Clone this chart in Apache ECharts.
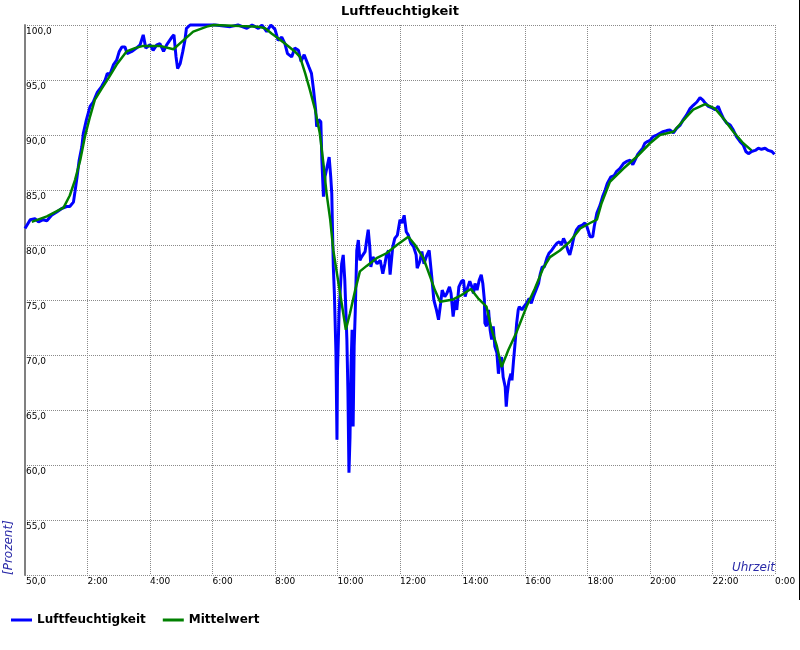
<!DOCTYPE html>
<html>
<head>
<meta charset="utf-8">
<script src="https://cdn.jsdelivr.net/npm/echarts@6/dist/echarts.min.js"></script>
<style>
html,body{margin:0;padding:0;background:#fff;}
#chart{width:800px;height:650px;}
</style>
</head>
<body>
<div id="chart"></div>
<script>
// Time in minutes after midnight
const luftMin = [0,10,19,26,35,42,51,61,70,80,86,93,96,100,104,109,112,118,125,131,139,147,154,158,163,170,176,181,186,192,196,205,214,221,227,232,240,246,253,259,266,272,282,286,290,293,298,303,307,310,317,336,365,394,409,426,436,448,455,464,472,480,486,493,499,504,512,518,525,530,536,545,550,554,558,560,564,568,570,573,576,580,584,587,589,590,592,594,597,599,600,603,608,611,614,618,620,622,624,626,628,630,632,634,637,640,643,646,653,656,659,662,664,668,672,676,682,687,691,694,698,701,706,710,715,720,724,728,732,736,741,746,751,753,758,762,766,771,776,781,785,790,794,798,801,806,810,815,818,822,826,829,833,838,842,845,849,854,858,861,864,868,872,876,879,882,883,886,890,893,896,899,902,906,909,912,915,918,922,924,926,929,933,935,938,941,944,947,949,954,958,963,968,972,976,981,986,989,993,997,1002,1006,1011,1016,1021,1026,1030,1034,1038,1043,1046,1050,1054,1059,1064,1070,1075,1078,1082,1085,1090,1093,1098,1104,1109,1114,1118,1125,1131,1136,1142,1149,1155,1162,1167,1171,1176,1181,1186,1190,1195,1200,1206,1213,1219,1225,1232,1238,1245,1251,1258,1264,1270,1277,1283,1290,1296,1301,1306,1312,1318,1325,1331,1336,1341,1347,1354,1360,1366,1373,1379,1384,1389,1395,1402,1408,1414,1421,1427,1434,1439];
const luftVal = [81.5,82.3,82.4,82.1,82.3,82.2,82.7,83.0,83.3,83.5,83.5,83.9,84.85,86.2,87.7,88.9,90.15,91.4,92.6,93.0,93.9,94.4,95.0,95.6,95.5,96.4,96.8,97.6,98.0,98.0,97.4,97.6,97.9,98.2,99.1,97.9,98.2,97.7,98.2,98.3,97.6,98.2,98.9,99.1,97.1,96.05,96.5,97.6,98.6,99.7,100,100,100,99.85,100,99.7,100,99.7,100,99.4,100,99.6,98.6,98.9,98.3,97.4,97.1,97.9,97.7,96.7,97.3,96.2,95.6,94.1,92.3,90.75,91.4,91.2,87.7,84.4,86.2,87.1,88.0,86.2,84.7,82.3,78.0,75.6,70.2,62.3,68.6,73.8,78.3,79.1,76.8,71.4,66.8,59.3,62.5,69.0,72.3,63.5,70.8,73.8,79.5,80.45,78.6,78.9,79.4,80.45,81.4,79.8,78.0,78.9,78.6,78.3,78.6,77.4,78.3,79.1,79.5,77.3,79.8,80.6,80.9,82.3,82.0,82.7,81.2,80.9,80.15,79.85,79.1,77.9,78.5,79.4,78.3,79.0,79.5,77.1,75.0,74.1,73.2,74.7,75.9,75.3,75.6,76.2,75.6,73.5,75.0,74.1,76.2,76.7,76.8,75.3,76.0,76.7,76.2,75.6,76.5,75.9,76.8,77.3,76.5,75.0,72.9,72.6,74.1,72.3,71.4,72.6,70.8,70.2,68.3,69.5,69.8,68.0,67.1,65.3,66.5,67.6,68.3,67.7,69.5,71.1,72.9,74.1,74.4,74.1,74.4,74.7,75.15,74.7,75.3,75.9,76.5,77.3,78.0,78.0,78.8,79.25,79.5,79.85,80.15,80.3,80.0,80.6,80.2,79.4,79.1,79.85,80.75,81.4,81.7,81.8,82.0,81.8,81.2,80.75,80.75,81.7,82.9,83.6,84.4,85.0,85.6,86.2,86.3,86.7,86.95,87.4,87.6,87.7,87.3,87.7,88.2,88.5,88.8,89.25,89.4,89.5,89.85,90.0,90.15,90.3,90.4,90.45,90.2,90.6,90.9,91.4,91.8,92.4,92.7,93.0,93.4,93.2,92.9,92.6,92.5,92.3,92.6,92.0,91.5,91.1,90.9,90.45,89.85,89.4,89.1,88.5,88.3,88.5,88.6,88.8,88.7,88.8,88.6,88.5,88.25];
const mittelMin = [13,42,74,86,96,106,115,125,134,147,160,176,195,211,227,259,285,304,323,349,362,413,447,461,474,486,502,518,528,538,547,557,566,573,579,586,592,599,607,613,616,624,634,643,656,675,694,714,736,749,765,778,787,797,822,838,856,870,886,896,906,915,928,944,963,979,995,1008,1027,1046,1066,1085,1098,1107,1123,1149,1174,1200,1219,1245,1270,1283,1306,1325,1341,1360,1379,1395];
const mittelVal = [82.1,82.6,83.4,84.5,85.9,87.7,89.85,91.7,93.2,94.2,95.15,96.4,97.6,97.9,98.1,98.1,97.8,98.6,99.4,99.85,100,99.9,99.85,99.7,99.2,98.8,98.2,97.6,97.1,95.6,94.1,92.3,90.15,87.4,84.7,82.3,79.5,77.4,75.0,73.2,72.3,73.8,75.9,77.6,78.1,78.8,79.25,80.0,80.75,80.0,78.8,77.1,75.9,74.85,75.05,75.45,76.0,75.15,74.4,72.3,70.8,68.9,70.45,72.1,74.4,76.05,77.9,78.9,79.5,80.3,81.5,82.0,82.3,83.8,85.75,86.95,88.0,89.25,90.0,90.3,91.65,92.3,92.8,92.4,91.5,90.3,89.25,88.6];
const xTickMinutes = 120;
const yTicks = 5;

const luftData = luftMin.map((m, i) => [m, luftVal[i]]);
const mittelData = mittelMin.map((m, i) => [m, mittelVal[i]]);

const chart = echarts.init(document.getElementById('chart'), null, {renderer: 'canvas'});
const FONT = 'DejaVu Sans';
chart.setOption({
  animation: false,
  backgroundColor: '#ffffff',
  title: {
    text: 'Luftfeuchtigkeit',
    left: 'center',
    top: 0,
    textStyle: {fontFamily: FONT, fontSize: 13, fontWeight: 'bold', color: '#000'}
  },
  legend: {
    left: 6,
    top: 609,
    icon: 'rect',
    itemWidth: 21,
    itemHeight: 3,
    itemGap: 17,
    textStyle: {fontFamily: FONT, fontSize: 12, fontWeight: 'bold', color: '#000'},
    data: ['Luftfeuchtigkeit', 'Mittelwert']
  },
  grid: {left: 25, right: 25, top: 25, bottom: 75, containLabel: false},
  xAxis: {
    type: 'value',
    min: 0,
    max: 1440,
    interval: xTickMinutes,
    axisLine: {show: false},
    axisTick: {show: false},
    splitLine: {show: true, lineStyle: {type: 'dotted', color: '#8a8a8a', width: 1}},
    axisLabel: {
      showMinLabel: true,
      showMaxLabel: true,
      align: 'left',
      margin: 2,
      fontFamily: FONT,
      fontSize: 9,
      color: '#000',
      formatter: function (v) { return v === 0 ? '' : ((v / 60) % 24) + ':00'; }
    }
  },
  yAxis: {
    type: 'value',
    min: 50,
    max: 100,
    interval: yTicks,
    axisLine: {show: true, lineStyle: {color: '#808080', width: 2}},
    axisTick: {show: false},
    splitLine: {show: true, lineStyle: {type: 'dotted', color: '#8a8a8a', width: 1}},
    axisLabel: {
      inside: true,
      align: 'left',
      verticalAlign: 'top',
      margin: 1,
      padding: [2, 0, 0, 0],
      fontFamily: FONT,
      fontSize: 9,
      color: '#000',
      showMinLabel: true,
      showMaxLabel: true,
      formatter: function (v) { return v.toFixed(1).replace('.', ','); }
    }
  },
  series: [
    {
      name: 'Luftfeuchtigkeit',
      type: 'line',
      data: luftData,
      showSymbol: false,
      clip: false,
      color: '#0000ff',
      lineStyle: {color: '#0000ff', width: 3}
    },
    {
      name: 'Mittelwert',
      type: 'line',
      data: mittelData,
      showSymbol: false,
      clip: false,
      color: '#008000',
      lineStyle: {color: '#008000', width: 2.5}
    }
  ],
  graphic: [
    {
      type: 'text',
      x: 9, y: 575,
      rotation: Math.PI / 2,
      style: {text: '[Prozent]', fontFamily: FONT, fontSize: 12, fontStyle: 'italic', fill: '#2a2aa8', align: 'left', verticalAlign: 'middle'}
    },
    {
      type: 'text',
      x: 775, y: 574,
      style: {text: 'Uhrzeit', fontFamily: FONT, fontSize: 12, fontStyle: 'italic', fill: '#2a2aa8', align: 'right', verticalAlign: 'bottom'}
    },
    {
      type: 'line',
      shape: {x1: 799.5, y1: 0, x2: 799.5, y2: 600},
      style: {stroke: '#000', lineWidth: 1}
    }
  ]
});
</script>
</body>
</html>
